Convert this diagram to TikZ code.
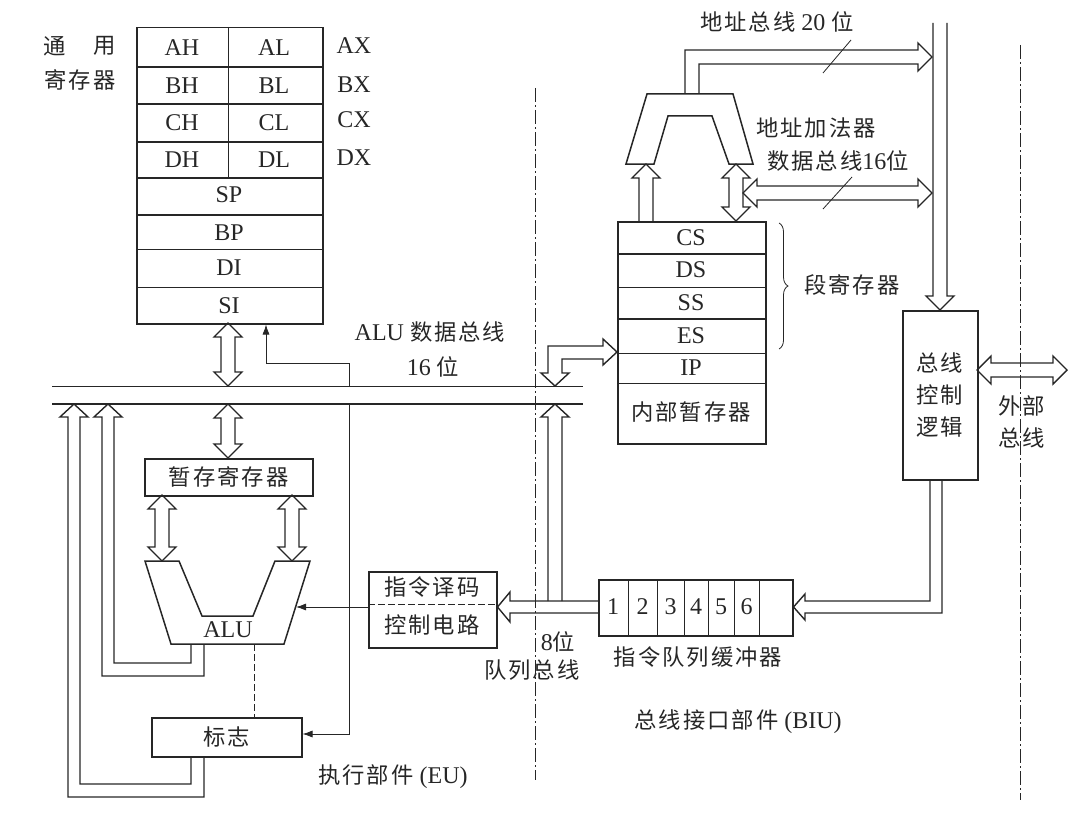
\documentclass[tikz,border=0pt]{standalone}
\usepackage{fontspec}
\setmainfont{Liberation Serif}
\newfontfamily\cjk[LetterSpace=9,Scale=0.93]{Noto Sans CJK SC}
\newcommand\zh[1]{{\cjk #1}}
\usetikzlibrary{decorations.pathreplacing,arrows.meta}
% vertical double-headed hollow arrow: x, ytop, ybottom
\newcommand\VDA[3]{\draw[hol] (#1,#2) -- (#1+14,#2+14) -- (#1+7,#2+14) -- (#1+7,#3-14) -- (#1+14,#3-14) -- (#1,#3) -- (#1-14,#3-14) -- (#1-7,#3-14) -- (#1-7,#2+14) -- (#1-14,#2+14) -- cycle;}
% horizontal double-headed hollow arrow: y, xleft, xright
\newcommand\HDA[3]{\draw[hol] (#2,#1) -- (#2+14,#1-14) -- (#2+14,#1-7) -- (#3-14,#1-7) -- (#3-14,#1-14) -- (#3,#1) -- (#3-14,#1+14) -- (#3-14,#1+7) -- (#2+14,#1+7) -- (#2+14,#1+14) -- cycle;}
\begin{document}
\begin{tikzpicture}[x=1pt,y=-1pt,
  ln/.style={line width=1.5pt, draw=black!85},
  thinln/.style={line width=0.8pt, draw=black!85},
  hol/.style={line width=1.4pt, draw=black!85, line join=miter},
  box/.style={line width=1.5pt, draw=black!85, inner sep=0pt, anchor=north west},
  lbl/.style={font=\fontsize{24}{28}\selectfont, inner sep=0pt, text=black!85},
  arr/.style={thinln, -{Latex[length=10pt,width=7pt]}},
  dashdot/.style={line width=0.9pt, draw=black!85, dash pattern=on 14pt off 3pt on 2pt off 3pt},
  dsh/.style={line width=0.9pt, draw=black!85, dash pattern=on 7pt off 3pt},
  ]
\useasboundingbox (0,0) rectangle (1080,816);

% ---------- general registers ----------
\node[box, minimum width=186pt, minimum height=296pt] (regs) at (136,27) {};
\foreach \yy in {67,104,142,178,215} \draw[ln] (136,\yy) -- (322,\yy);
\foreach \yy in {249,287} \draw[thinln] (136,\yy) -- (322,\yy);
\draw[thinln] (228,27) -- (228,178);
\node[lbl] (ah) at (182,48) {AH};
\node[lbl] (al) at (274,48) {AL};
\node[lbl] (bh) at (182,86) {BH};
\node[lbl] (bl) at (274,86) {BL};
\node[lbl] (ch) at (182,123) {CH};
\node[lbl] (cl) at (274,123) {CL};
\node[lbl] (dh) at (182,160) {DH};
\node[lbl] (dl) at (274,160) {DL};
\node[lbl] (sp) at (229,195) {SP};
\node[lbl] (bp) at (229,233) {BP};
\node[lbl] (di) at (229,268) {DI};
\node[lbl] (si) at (229,306) {SI};
\node[lbl] (ax) at (354,46) {AX};
\node[lbl] (bx) at (354,85) {BX};
\node[lbl] (cx) at (354,120) {CX};
\node[lbl] (dx) at (354,158) {DX};
\node[lbl] (t1) at (55,46) {\zh{通}};
\node[lbl] (t2) at (105,46) {\zh{用}};
\node[lbl] (t3) at (80,80) {\zh{寄存器}};

% ---------- ALU data bus ----------
\draw[thinln] (52,386) -- (583,386);
\draw[line width=2pt, draw=black!85] (52,404) -- (583,404);
\node[lbl] (busl1) at (430,332) {ALU \zh{数据总线}};
\node[lbl] (busl2) at (433,367) {16 \zh{位}};

\VDA{228}{323}{386}
\draw[arr] (349,386) -- (349,363) -- (266,363) -- (regs.south -| 266,0);

% ---------- EU ----------
\VDA{228}{404}{458}
\node[box, minimum width=168pt, minimum height=37pt] (tmp) at (144,458) {};
\node[lbl] at (tmp.center) {\zh{暂存寄存器}};
\VDA{162}{495}{561}
\VDA{292}{495}{561}
\draw[ln] (145,561) -- (179,561) -- (202,616) -- (253,616) -- (275,561) -- (310,561) -- (284,644) -- (171,644) -- cycle;
\node[lbl] (alu) at (228,630) {ALU};

\node[box, minimum width=128pt, minimum height=76pt] (dec) at (368,571) {};
\draw[dsh] (368,604) -- (496,604);
\node[lbl] (dec1) at (432,587) {\zh{指令译码}};
\node[lbl] (dec2) at (432,625) {\zh{控制电路}};
\draw[arr] (dec.west |- 0,607) -- (296,607);

\node[box, minimum width=150pt, minimum height=39pt] (flag) at (151,717) {};
\node[lbl] at (flag.center) {\zh{标志}};
\draw[dsh] (254,644) -- (254,717);
\draw[arr] (349,404) -- (349,734) -- (flag.east |- 0,734);

% feedback loops
\draw[hol] (191,756) -- (191,784) -- (80,784) -- (80,417) -- (88,417) -- (74,404) -- (60,417) -- (68,417) -- (68,797) -- (204,797) -- (204,756);
\draw[hol] (191,644) -- (191,663) -- (114,663) -- (114,417) -- (122,417) -- (108,404) -- (94,417) -- (102,417) -- (102,676) -- (204,676) -- (204,644);

\node[lbl] (eu) at (393,777) {\zh{执行部件} (EU)};

% ---------- dividers ----------
\draw[dashdot] (535,88) -- (535,780);
\draw[dashdot] (1020,45) -- (1020,800);

% ---------- queue bus ----------
\draw[hol] (548,601) -- (548,417) -- (541,417) -- (555,404) -- (569,417) -- (562,417) -- (562,601);
\draw[hol] (598,601) -- (510,601) -- (510,592) -- (dec.east |- 0,607) -- (510,622) -- (510,613) -- (598,613);
\node[lbl] (b8a) at (558,642) {8\zh{位}};
\node[lbl] (b8b) at (532,670) {\zh{队列总线}};

% IP <-> bus
\draw[hol] (617,352) -- (603,339) -- (603,346) -- (548,346) -- (548,373) -- (541,373) -- (555,386) -- (569,373) -- (562,373) -- (562,359) -- (603,359) -- (603,365) -- cycle;

% ---------- segment registers ----------
\node[box, minimum width=148pt, minimum height=222pt] (seg) at (617,221) {};
\foreach \yy in {254,319} \draw[ln] (617,\yy) -- (765,\yy);
\foreach \yy in {287,353,383} \draw[thinln] (617,\yy) -- (765,\yy);
\node[lbl] (cs) at (691,238) {CS};
\node[lbl] (ds) at (691,270) {DS};
\node[lbl] (ss) at (691,303) {SS};
\node[lbl] (es) at (691,336) {ES};
\node[lbl] (ip) at (691,368) {IP};
\node[lbl] (inner) at (691,412) {\zh{内部暂存器}};
\draw[thinln, decorate, decoration={brace, amplitude=9pt}] (779,223) -- (779,349);
\node[lbl] (segl) at (852,285) {\zh{段寄存器}};

% ---------- address adder ----------
\draw[ln] (647,94) -- (733,94) -- (753,164) -- (729,164) -- (712,116) -- (668,116) -- (654,164) -- (626,164) -- cycle;
\node[lbl] (addl) at (816,128) {\zh{地址加法器}};
\draw[hol] (639,221) -- (639,178) -- (632,178) -- (646,164) -- (660,178) -- (653,178) -- (653,221);
\VDA{736}{164}{221}

% address bus
\draw[hol] (685,94) -- (685,50) -- (918,50) -- (918,43) -- (932,57) -- (918,71) -- (918,64) -- (699,64) -- (699,94);
\node[lbl] (abl) at (777,22) {\zh{地址总线} 20 \zh{位}};
\draw[thinln] (823,73) -- (851,40);

% data bus
\HDA{193}{743}{932}
\node[lbl] (dbl) at (838,161) {\zh{数据总线}16\zh{位}};
\draw[thinln] (823,209) -- (852,177);

% ---------- bus control ----------
\node[box, minimum width=75pt, minimum height=169pt] (bcl) at (902,310) {};
\node[lbl] at (940,363) {\zh{总线}};
\node[lbl] at (940,395) {\zh{控制}};
\node[lbl] at (940,427) {\zh{逻辑}};
\draw[hol] (933,23) -- (933,296) -- (926,296) -- (940,310) -- (954,296) -- (947,296) -- (947,23);
\HDA{370}{977}{1067}
\node[lbl] (ext1) at (1022,406) {\zh{外部}};
\node[lbl] (ext2) at (1022,438) {\zh{总线}};

% ---------- instruction queue ----------
\node[box, minimum width=194pt, minimum height=56pt] (queue) at (598,579) {};
\foreach \xx in {628,657,684,708,734,759} \draw[thinln] (\xx,579) -- (\xx,635);
\foreach \n/\xx in {1/613,2/642.5,3/670.5,4/696,5/721,6/746.5} \node[lbl] at (\xx,607) {\n};
\draw[hol] (930,479) -- (930,601) -- (805,601) -- (805,594) -- (queue.east |- 0,607) -- (805,620) -- (805,613) -- (942,613) -- (942,479);
\node[lbl] (ql) at (698,657) {\zh{指令队列缓冲器}};
\node[lbl] (biu) at (738,722) {\zh{总线接口部件} (BIU)};
\end{tikzpicture}
\end{document}
